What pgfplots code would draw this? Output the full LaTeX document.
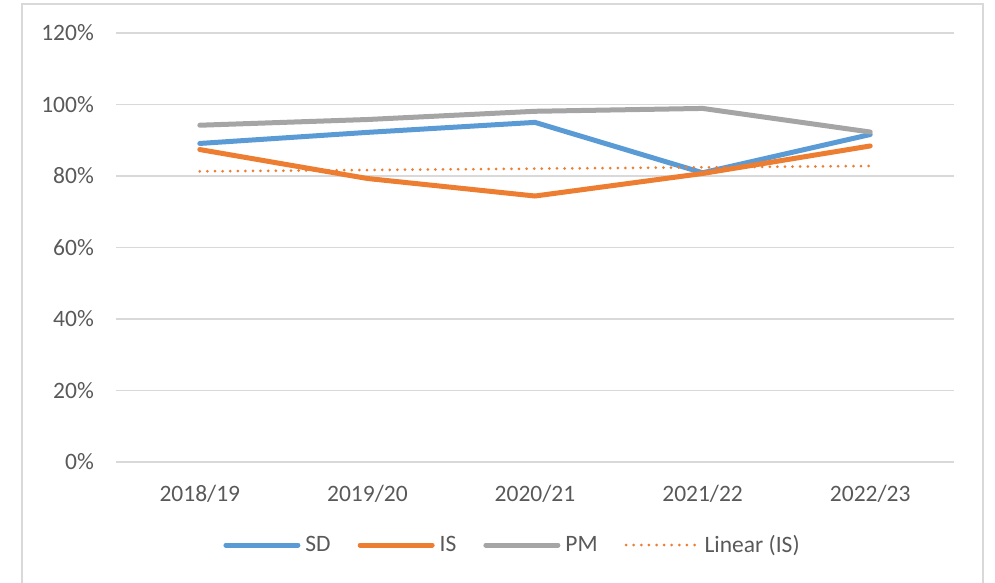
\documentclass[border=0pt]{standalone}
\usepackage{pgfplots}
\pgfplotsset{compat=1.18}
\usepackage{fontspec}
\setmainfont{Carlito}
\definecolor{sd}{HTML}{5B9BD5}
\definecolor{is}{HTML}{ED7D31}
\definecolor{pm}{HTML}{A5A5A5}
\definecolor{gridc}{HTML}{D9D9D9}
\definecolor{txt}{HTML}{595959}
\begin{document}
\begin{tikzpicture}[x=1pt,y=1pt]
\path[use as bounding box] (0,0) rectangle (995,583);
\draw[gridc, line width=1.5pt] (22,-5) -- (22,579) -- (983,579) -- (983,-5);
\begin{axis}[
  at={(116pt,121pt)}, anchor=south west,
  scale only axis, width=838pt, height=429pt,
  xmin=-0.5, xmax=4.5, ymin=0, ymax=120,
  xtick={0,...,4}, xticklabels={2018/19,2019/20,2020/21,2021/22,2022/23},
  ytick={0,20,...,120},
  yticklabel={\pgfmathprintnumber{\tick}\%},
  ymajorgrids, grid style={gridc, line width=1.3pt},
  axis line style={draw=none}, major tick length=0pt,
  tick style={draw=none},
  tick label style={font=\fontsize{23.5}{28}\selectfont, text=txt},
  /pgf/number format/assume math mode=true,
  yticklabel style={inner sep=0pt, anchor=east, xshift=-22pt},
  xticklabel style={inner sep=0pt, anchor=north, yshift=-23pt},
  clip=false,
  legend columns=4,
  legend style={draw=none, fill=none, at={(0.472,-0.1935)}, anchor=center,
    font=\fontsize{23.5}{28}\selectfont, text=txt, nodes={inner sep=0pt},
    /tikz/every even column/.append style={column sep=27pt},
    /tikz/every odd column/.append style={column sep=5pt}},
  legend image code/.code={\draw[#1] (0pt,0pt) -- (72pt,0pt);},
]
\addplot[sd, line width=5pt, line join=round, line cap=round] coordinates {(0,89.1) (1,92.2) (2,95.0) (3,80.9) (4,91.6)};
\addlegendentry{SD}
\addplot[is, line width=5pt, line join=round, line cap=round] coordinates {(0,87.4) (1,79.3) (2,74.4) (3,80.7) (4,88.4)};
\addlegendentry{IS}
\addplot[pm, line width=5pt, line join=round, line cap=round] coordinates {(0,94.2) (1,95.8) (2,98.1) (3,98.9) (4,92.3)};
\addlegendentry{PM}
\addplot[is, line width=3pt, line cap=round, dash pattern=on 0pt off 7.6pt] coordinates {(0,81.3) (4,82.8)};
\addlegendentry{Linear (IS)}
\end{axis}
\end{tikzpicture}
\end{document}
